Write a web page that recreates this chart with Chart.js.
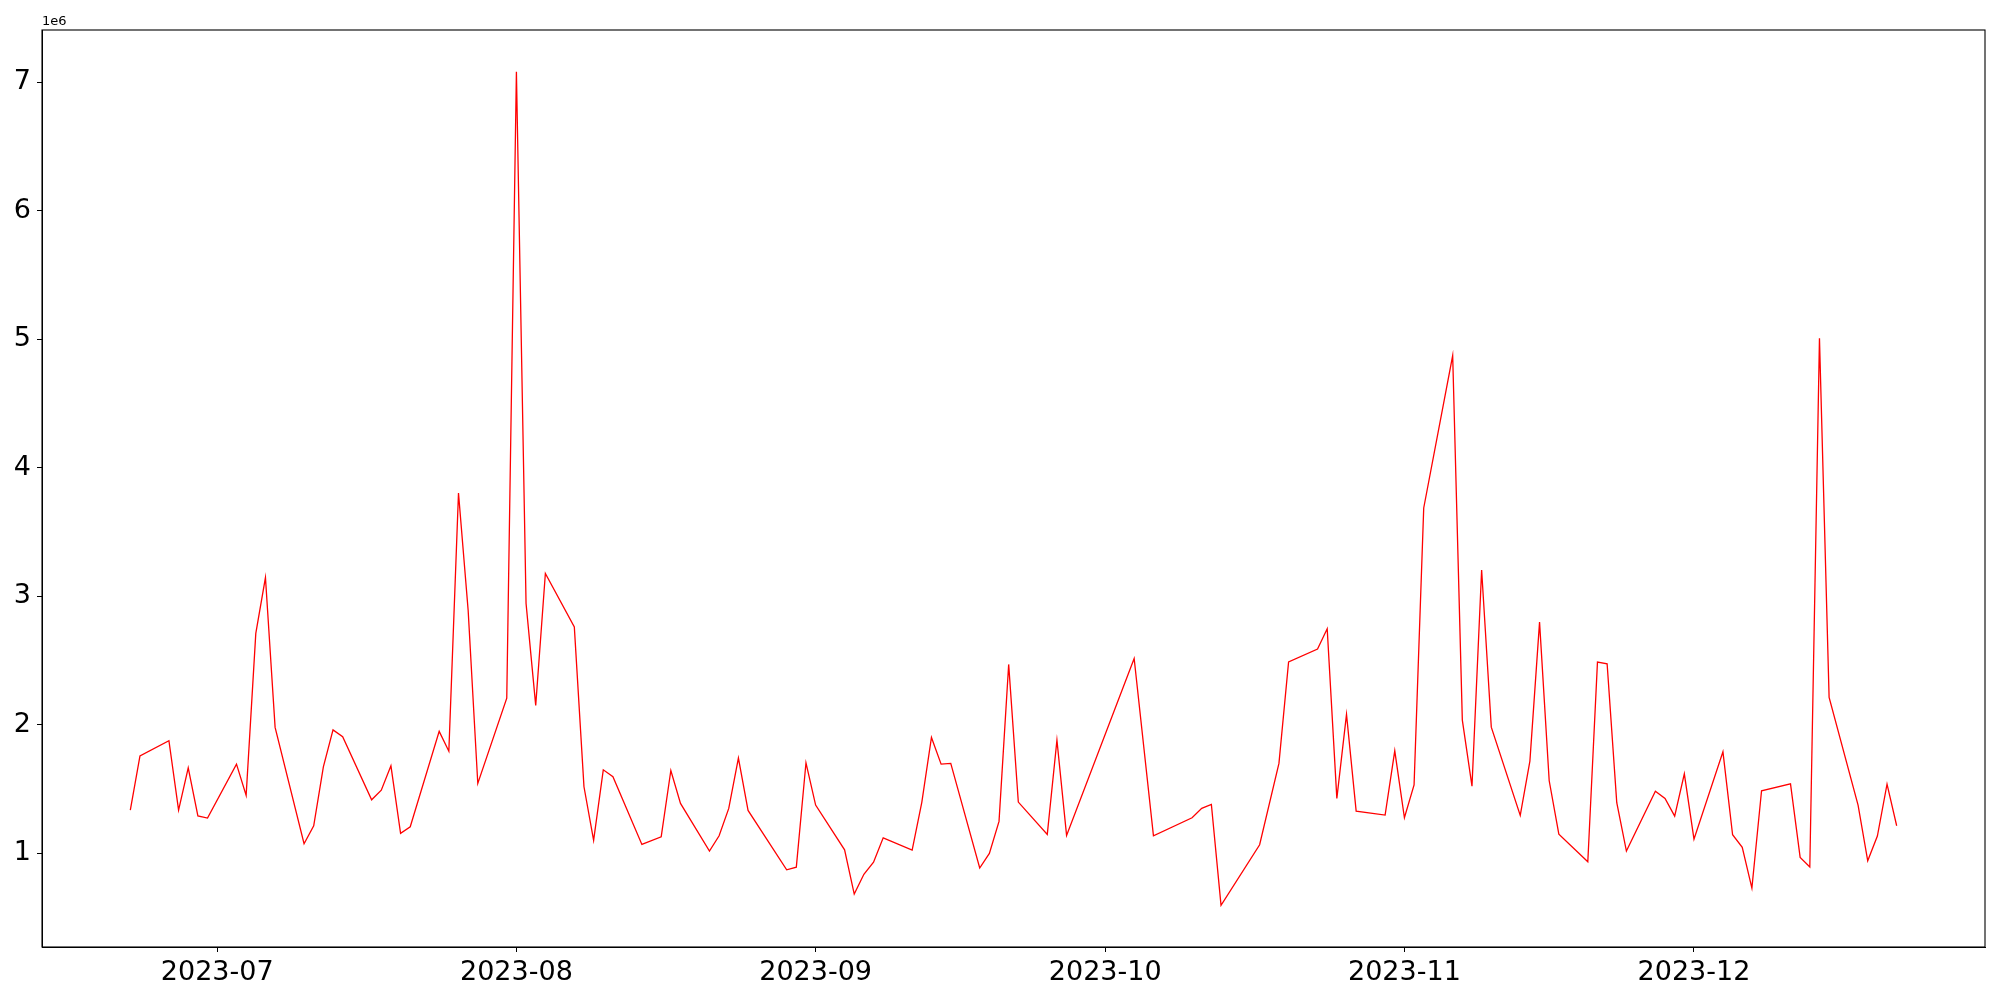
<!DOCTYPE html>
<html><head><meta charset="utf-8">
<script src="https://cdn.jsdelivr.net/npm/chart.js@4/dist/chart.umd.min.js"></script>
<style>html,body{margin:0;padding:0;background:#fff;} canvas{display:block;}</style>
</head><body>
<canvas id="c" width="2000" height="1000"></canvas>
<script>
const dates = [
'2023-06-22','2023-06-23','2023-06-26','2023-06-27','2023-06-28','2023-06-29','2023-06-30',
'2023-07-03','2023-07-04','2023-07-05','2023-07-06','2023-07-07',
'2023-07-10','2023-07-11','2023-07-12','2023-07-13','2023-07-14',
'2023-07-17','2023-07-18','2023-07-19','2023-07-20','2023-07-21',
'2023-07-24','2023-07-25','2023-07-26','2023-07-27','2023-07-28',
'2023-07-31','2023-08-01','2023-08-02','2023-08-03','2023-08-04',
'2023-08-07','2023-08-08','2023-08-09','2023-08-10','2023-08-11',
'2023-08-14','2023-08-16','2023-08-17','2023-08-18',
'2023-08-21','2023-08-22','2023-08-23','2023-08-24','2023-08-25',
'2023-08-29','2023-08-30','2023-08-31','2023-09-01',
'2023-09-04','2023-09-05','2023-09-06','2023-09-07','2023-09-08',
'2023-09-11','2023-09-12','2023-09-13','2023-09-14','2023-09-15',
'2023-09-18','2023-09-19','2023-09-20','2023-09-21','2023-09-22',
'2023-09-25','2023-09-26','2023-09-27',
'2023-10-04','2023-10-06',
'2023-10-10','2023-10-11','2023-10-12','2023-10-13',
'2023-10-17','2023-10-19','2023-10-20',
'2023-10-23','2023-10-24','2023-10-25','2023-10-26','2023-10-27',
'2023-10-30','2023-10-31','2023-11-01','2023-11-02','2023-11-03',
'2023-11-06','2023-11-07','2023-11-08','2023-11-09','2023-11-10',
'2023-11-13','2023-11-14','2023-11-15','2023-11-16','2023-11-17',
'2023-11-20','2023-11-21','2023-11-22','2023-11-23','2023-11-24',
'2023-11-27','2023-11-28','2023-11-29','2023-11-30','2023-12-01',
'2023-12-04','2023-12-05','2023-12-06','2023-12-07','2023-12-08',
'2023-12-11','2023-12-12','2023-12-13','2023-12-14','2023-12-15',
'2023-12-18','2023-12-19','2023-12-20','2023-12-21','2023-12-22'
];
const values = [
1337000,1759000,1876000,1337000,1666000,1292000,1275000,
1694000,1451000,2711000,3146000,1980000,
1075000,1215000,1673000,1961000,1907000,
1417000,1492000,1681000,1156000,1207000,
1949000,1795000,3804000,2892000,1544000,
2208000,7081000,2944000,2151000,3177000,
2762000,1518000,1101000,1650000,1596000,
1070000,1129000,1645000,1389000,
1018000,1137000,1350000,1741000,1334000,
872000,893000,1705000,1376000,
1028000,683000,837000,932000,1121000,
1026000,1397000,1902000,1694000,1700000,
886000,1000000,1249000,2470000,1399000,
1148000,1881000,1140000,
2516000,1137000,
1277000,1350000,1381000,596000,
1067000,1700000,2490000,
2589000,2747000,1428000,2081000,1329000,
1298000,1798000,1277000,1533000,3687000,
4873000,2037000,1523000,3205000,1982000,
1295000,1718000,2799000,1565000,1150000,
935000,2488000,2475000,1394000,1018000,
1484000,1428000,1290000,1619000,1111000,
1790000,1145000,1047000,730000,1487000,
1541000,969000,894000,5007000,2213000,
1376000,942000,1135000,1539000,1215000
];
const tickMonths = ['2023-07-01','2023-08-01','2023-09-01','2023-10-01','2023-11-01','2023-12-01'];
const yTicks = [1000000,2000000,3000000,4000000,5000000,6000000,7000000];
const yScaleFactor = 1000000;
const offsetText = '1e6';

const DAY = 86400000;
const toDay = s => Date.UTC(+s.slice(0,4), +s.slice(5,7)-1, +s.slice(8,10)) / DAY;
const xs = dates.map(toDay);
const points = xs.map((x, i) => ({x: x, y: values[i]}));
const xmin0 = Math.min(...xs), xmax0 = Math.max(...xs);
const ymin0 = Math.min(...values), ymax0 = Math.max(...values);
const xm = (xmax0 - xmin0) * 0.05, ym = (ymax0 - ymin0) * 0.05;

const FONT = 'DejaVu Sans';
const frame = {
  id: 'frame',
  afterDraw(chart) {
    const {ctx, chartArea: a} = chart;
    ctx.save();
    ctx.strokeStyle = '#000';
    ctx.lineWidth = 1.1;
    ctx.strokeRect(a.left, a.top, a.right - a.left, a.bottom - a.top);
    ctx.font = '13px "' + FONT + '"';
    ctx.fillStyle = '#000';
    ctx.textAlign = 'left';
    ctx.textBaseline = 'alphabetic';
    ctx.fillText(offsetText, a.left, a.top - 5);
    ctx.restore();
  }
};

new Chart(document.getElementById('c').getContext('2d'), {
  type: 'line',
  data: {datasets: [{data: points, borderColor: '#ff0000', borderWidth: 1.3, pointRadius: 0, tension: 0, fill: false}]},
  options: {
    responsive: false, animation: false, devicePixelRatio: 1,
    layout: {padding: {left: 0, right: 15, top: 30, bottom: 0}},
    plugins: {legend: {display: false}, tooltip: {enabled: false}},
    scales: {
      x: {
        type: 'linear', min: xmin0 - xm, max: xmax0 + xm,
        afterBuildTicks: s => { s.ticks = tickMonths.map(m => ({value: toDay(m)})); },
        afterFit: s => { s.height = 53; },
        ticks: {
          callback: v => { const d = new Date(v * DAY); return d.getUTCFullYear() + '-' + String(d.getUTCMonth() + 1).padStart(2, '0'); },
          font: {family: FONT, size: 27}, color: '#000', padding: 5, maxRotation: 0, autoSkip: false
        },
        grid: {drawOnChartArea: false, drawTicks: true, tickLength: 5, color: '#000', tickWidth: 1},
        border: {display: true, color: '#000', width: 1}
      },
      y: {
        type: 'linear', min: ymin0 - ym, max: ymax0 + ym,
        afterBuildTicks: s => { s.ticks = yTicks.map(v => ({value: v})); },
        afterFit: s => { s.width = 42; },
        ticks: {
          callback: v => String(v / yScaleFactor),
          font: {family: FONT, size: 27}, color: '#000', padding: 6
        },
        grid: {drawOnChartArea: false, drawTicks: true, tickLength: 5, color: '#000', tickWidth: 1},
        border: {display: true, color: '#000', width: 1}
      }
    }
  },
  plugins: [frame]
});
</script>
</body></html>
